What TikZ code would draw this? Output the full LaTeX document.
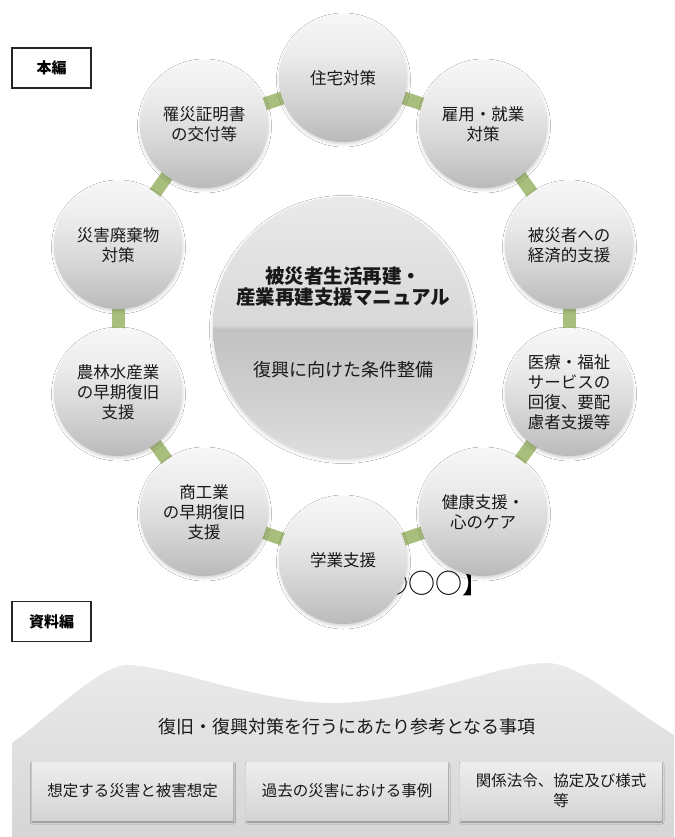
\documentclass[tikz,border=0pt]{standalone}
\usepackage{fontspec}
\setmainfont{Noto Sans CJK JP}
\usetikzlibrary{shadows.blur}
\definecolor{conn}{RGB}{168,190,125}
\definecolor{ba}{RGB}{186,186,186}
\definecolor{bb}{RGB}{210,210,210}
\definecolor{bc}{RGB}{234,234,234}
\definecolor{bd}{RGB}{247,247,247}
\definecolor{ca}{RGB}{222,222,222}
\definecolor{cb}{RGB}{206,206,206}
\definecolor{cc}{RGB}{194,194,194}
\definecolor{cd}{RGB}{216,216,216}
\definecolor{ce}{RGB}{234,234,234}
\definecolor{txt}{RGB}{25,25,25}
\pgfdeclareverticalshading{ballshade}{100bp}{color(0bp)=(ba); color(25bp)=(ba); color(40bp)=(bb); color(58bp)=(bc); color(75bp)=(bd); color(100bp)=(bd)}
\pgfdeclareverticalshading{hubshade}{100bp}{color(0bp)=(ca); color(25bp)=(ca); color(38bp)=(cb); color(49.6bp)=(cc); color(50.4bp)=(cd); color(75bp)=(ce); color(100bp)=(ce)}
\tikzset{
  ball/.style={circle, minimum size=128pt, inner sep=0pt, shading=ballshade,
    blur shadow={shadow xshift=0.5pt, shadow yshift=-2pt, shadow blur radius=3pt, shadow opacity=18},
    align=center, text=txt, font=\fontsize{16.5}{20}\selectfont},
  hub/.style={circle, minimum size=260pt, inner sep=0pt, shading=hubshade,
    blur shadow={shadow xshift=0.5pt, shadow yshift=-2.5pt, shadow blur radius=4pt, shadow opacity=20}},
  link/.style={draw=conn, line width=13pt},
  tagbox/.style={draw=black!85, line width=1.3pt, minimum width=79pt, minimum height=40pt,
    inner sep=0pt, font=\bfseries\fontsize{15}{18}\selectfont},
  refbox/.style={rectangle, minimum width=201pt, minimum height=58pt, inner sep=0pt,
    top color={rgb,255:red,238;green,238;blue,238}, bottom color={rgb,255:red,212;green,212;blue,212},
    blur shadow={shadow xshift=0.5pt, shadow yshift=-2pt, shadow blur radius=2pt, shadow opacity=40},
    align=center, text=txt, font=\fontsize{15.5}{20}\selectfont},
}
\begin{document}
\begin{tikzpicture}[x=1pt,y=-1pt]
\useasboundingbox (0,0) rectangle (674,837);
\fill[white] (0,0) rectangle (674,837);

% links (drawn first, behind circles)
\coordinate (p1) at (343,78);
\coordinate (p2) at (483,124);
\coordinate (p3) at (569,245);
\coordinate (p4) at (569,392);
\coordinate (p5) at (483,512);
\coordinate (p6) at (343,560);
\coordinate (p7) at (204,512);
\coordinate (p8) at (118,392);
\coordinate (p9) at (118,245);
\coordinate (p10) at (204,124);
\foreach \a/\b in {p1/p2,p2/p3,p3/p4,p4/p5,p5/p6,p6/p7,p7/p8,p8/p9,p9/p10,p10/p1}
  \draw[link] (\a) -- (\b);

% hidden text behind the bottom circle
\node[anchor=east, inner sep=0pt, font=\fontsize{27}{30}\selectfont] (mark) at (490,583) {【○○○○】};

% hub
\node[hub] (hub) at (343,327) {};
\node[align=center, text=txt, font=\bfseries\fontsize{19.5}{21}\selectfont] (title) at (343,287) {被災者生活再建・\\産業再建支援マニュアル};
\node[text=txt, font=\fontsize{18}{20}\selectfont] (sub) at (343,370) {復興に向けた条件整備};

% ring
\node[ball] (n1) at (p1) {住宅対策};
\node[ball] (n2) at (p2) {雇用・就業\\対策};
\node[ball] (n3) at (p3) {被災者への\\経済的支援};
\node[ball] (n4) at (p4) {医療・福祉\\サービスの\\回復、要配\\慮者支援等};
\node[ball] (n5) at (p5) {健康支援・\\心のケア};
\node[ball] (n6) at (p6) {学業支援};
\node[ball] (n7) at (p7) {商工業\\の早期復旧\\支援};
\node[ball] (n8) at (p8) {農林水産業\\の早期復旧\\支援};
\node[ball] (n9) at (p9) {災害廃棄物\\対策};
\node[ball] (n10) at (p10) {罹災証明書\\の交付等};

% section tags
\node[tagbox] (hon) at (51.5,68) {本編};
\node[tagbox] (shiryo) at (51.5,621.5) {資料編};

% bottom wave panel
\path[top color={rgb,255:red,234;green,234;blue,234}, bottom color={rgb,255:red,214;green,214;blue,214}]
  (12,837) -- (12,743) .. controls (50,716) and (100,665) .. (127,665)
  .. controls (170,665) and (260,704) .. (337,703)
  .. controls (420,701) and (500,663) .. (547,663)
  .. controls (578,663) and (622,703) .. (674,735) -- (674,837) -- cycle;
\node[text=txt, font=\fontsize{18}{20}\selectfont] (reftitle) at (347,727) {復旧・復興対策を行うにあたり参考となる事項};
\node[refbox] (r1) at (132.5,791) {想定する災害と被害想定};
\node[refbox] (r2) at (347,791) {過去の災害における事例};
\node[refbox] (r3) at (561,791) {関係法令、協定及び様式\\等};
\end{tikzpicture}
\end{document}
